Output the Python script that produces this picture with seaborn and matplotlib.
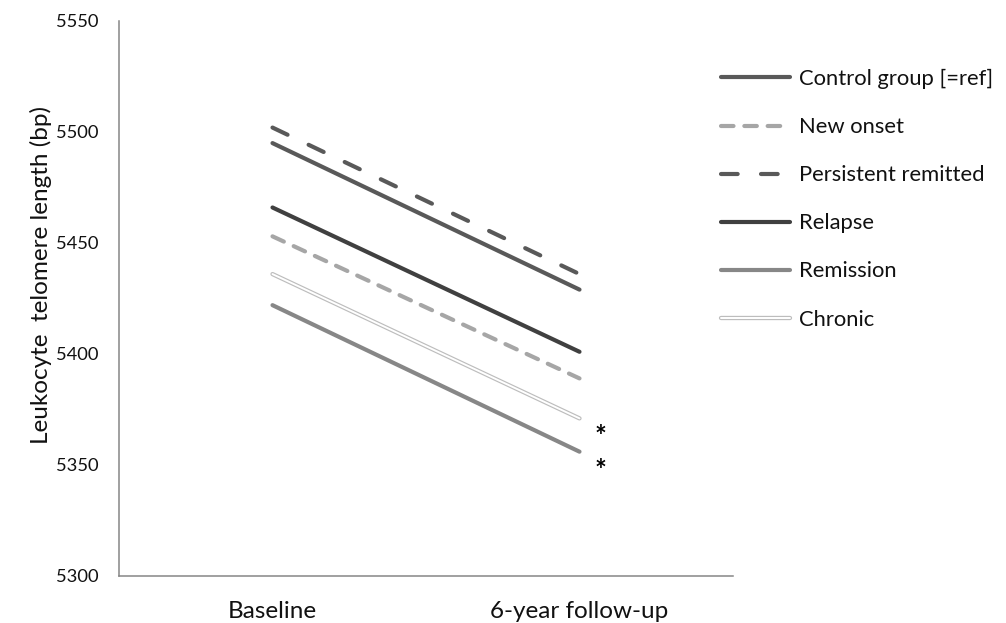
import matplotlib
matplotlib.use("Agg")
import matplotlib.pyplot as plt
import matplotlib.patheffects as pe
import seaborn as sns
import pandas as pd

# ---- data ----
timepoints = ["Baseline", "6-year follow-up"]
groups = ["Control group [=ref]", "New onset", "Persistent remitted",
          "Relapse", "Remission", "Chronic"]
baseline = [5495, 5453, 5502, 5466, 5422, 5436]
followup = [5429, 5389, 5436, 5401, 5356, 5371]
yticks = [5300, 5350, 5400, 5450, 5500, 5550]
significant = ["Chronic", "Remission"]

rows = []
for g, b, f in zip(groups, baseline, followup):
    rows.append({"group": g, "t": 0, "ltl": b})
    rows.append({"group": g, "t": 1, "ltl": f})
df = pd.DataFrame(rows)

styles = {
    "Control group [=ref]": dict(color="#595959", ls="-"),
    "New onset": dict(color="#a6a6a6", ls=(0, (3.0, 2.6))),
    "Persistent remitted": dict(color="#595959", ls=(0, (4.0, 5.6))),
    "Relapse": dict(color="#404040", ls="-"),
    "Remission": dict(color="#878787", ls="-"),
    "Chronic": dict(color="white", ls="-"),
}

sns.set_theme(style="white")
plt.rcParams["font.family"] = ["Lato", "DejaVu Sans"]

fig = plt.figure(figsize=(10.06, 6.23), dpi=100)
ax = fig.add_axes([119 / 1006, 1 - 576 / 623, 614 / 1006, 555 / 623])

for g in groups:
    sub = df[df["group"] == g]
    st = styles[g]
    lw = 1.4 if g == "Chronic" else 3.0
    sns.lineplot(data=sub, x="t", y="ltl", ax=ax, color=st["color"],
                 linestyle=st["ls"], linewidth=lw, label=g,
                 estimator=None, sort=False, legend=False)
    line = ax.lines[-1]
    line.set_solid_capstyle("round")
    line.set_dash_capstyle("round")
    if g == "Chronic":
        line.set_path_effects([pe.Stroke(linewidth=3.1, foreground="#bdbdbd"),
                               pe.Normal()])

# significance asterisks next to follow-up endpoints
for g in significant:
    yv = followup[groups.index(g)]
    ax.text(1.069, yv - 8.5, "*", ha="center", va="center",
            fontsize=20, fontweight="bold", color="black")

ax.set_xlim(-0.5, 1.5)
ax.set_ylim(5300, 5550)
ax.set_yticks(yticks)
ax.set_yticklabels([str(v) for v in yticks])
ax.set_xticks([0, 1])
ax.set_xticklabels(timepoints)
ax.tick_params(axis="y", length=0, pad=15, labelsize=13.2, labelcolor="#111111")
ax.tick_params(axis="x", length=0, pad=18, labelsize=17.5, labelcolor="#111111")
ax.set_xlabel("")
ax.set_ylabel("Leukocyte  telomere length (bp)", fontsize=17.5, color="#111111")
ax.yaxis.label.set_va("center")
ax.yaxis.set_label_coords((41 - 119) / 614, (576 - 274.5) / 555)

for s in ["top", "right"]:
    ax.spines[s].set_visible(False)
for s in ["left", "bottom"]:
    ax.spines[s].set_color("#868686")
    ax.spines[s].set_linewidth(1.1)
ax.grid(False)

handles = ax.lines[:len(groups)]
fs = 15.8
fpx = fs * 100 / 72
leg = fig.legend(handles, groups, loc="upper left",
                 bbox_to_anchor=(721 / 1006, 1 - 69 / 623),
                 frameon=False, fontsize=fs, borderpad=0, borderaxespad=0,
                 handlelength=69 / fpx, handletextpad=9 / fpx,
                 labelspacing=1.28)
for t in leg.get_texts():
    t.set_color("#111111")

fig.savefig("out.png", dpi=100, facecolor="white")
